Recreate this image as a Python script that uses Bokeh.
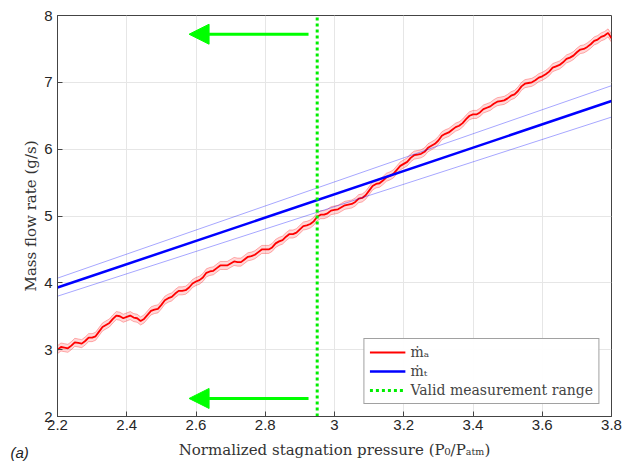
from bokeh.plotting import figure
from bokeh.models import Range1d, Arrow, NormalHead, Legend, LegendItem, Label, FixedTicker
from bokeh.embed import file_html
from bokeh.resources import INLINE

# ---- data ----
p_norm = [2.20, 2.21, 2.22, 2.23, 2.24, 2.25, 2.26, 2.27, 2.28, 2.29,
          2.30, 2.31, 2.32, 2.33, 2.34, 2.35, 2.36, 2.37, 2.38, 2.39,
          2.40, 2.41, 2.42, 2.43, 2.44, 2.45, 2.46, 2.47, 2.48, 2.49,
          2.50, 2.51, 2.52, 2.53, 2.54, 2.55, 2.56, 2.57, 2.58, 2.59,
          2.60, 2.61, 2.62, 2.63, 2.64, 2.65, 2.66, 2.67, 2.68, 2.69,
          2.70, 2.71, 2.72, 2.73, 2.74, 2.75, 2.76, 2.77, 2.78, 2.79,
          2.80, 2.81, 2.82, 2.83, 2.84, 2.85, 2.86, 2.87, 2.88, 2.89,
          2.90, 2.91, 2.92, 2.93, 2.94, 2.95, 2.96, 2.97, 2.98, 2.99,
          3.00, 3.01, 3.02, 3.03, 3.04, 3.05, 3.06, 3.07, 3.08, 3.09,
          3.10, 3.11, 3.12, 3.13, 3.14, 3.15, 3.16, 3.17, 3.18, 3.19,
          3.20, 3.21, 3.22, 3.23, 3.24, 3.25, 3.26, 3.27, 3.28, 3.29,
          3.30, 3.31, 3.32, 3.33, 3.34, 3.35, 3.36, 3.37, 3.38, 3.39,
          3.40, 3.41, 3.42, 3.43, 3.44, 3.45, 3.46, 3.47, 3.48, 3.49,
          3.50, 3.51, 3.52, 3.53, 3.54, 3.55, 3.56, 3.57, 3.58, 3.59,
          3.60, 3.61, 3.62, 3.63, 3.64, 3.65, 3.66, 3.67, 3.68, 3.69,
          3.70, 3.71, 3.72, 3.73, 3.74, 3.75, 3.76, 3.77, 3.78, 3.79,
          3.80]
m_a = [3.00, 3.04, 3.03, 3.02, 3.06, 3.11, 3.10, 3.09, 3.13, 3.18,
       3.18, 3.20, 3.27, 3.34, 3.37, 3.40, 3.46, 3.51, 3.50, 3.47,
       3.49, 3.51, 3.48, 3.47, 3.43, 3.46, 3.52, 3.58, 3.60, 3.61,
       3.67, 3.74, 3.77, 3.79, 3.84, 3.88, 3.88, 3.89, 3.93, 3.99,
       4.02, 4.04, 4.08, 4.15, 4.17, 4.18, 4.22, 4.26, 4.26, 4.26,
       4.29, 4.32, 4.31, 4.31, 4.35, 4.39, 4.40, 4.42, 4.46, 4.50,
       4.50, 4.50, 4.53, 4.59, 4.62, 4.64, 4.69, 4.73, 4.73, 4.75,
       4.80, 4.85, 4.86, 4.88, 4.92, 4.99, 5.02, 5.02, 5.04, 5.08,
       5.09, 5.10, 5.13, 5.16, 5.17, 5.18, 5.21, 5.26, 5.27, 5.31,
       5.38, 5.45, 5.48, 5.49, 5.53, 5.58, 5.60, 5.63, 5.69, 5.75,
       5.78, 5.81, 5.87, 5.91, 5.92, 5.93, 5.96, 6.02, 6.05, 6.08,
       6.13, 6.20, 6.23, 6.25, 6.29, 6.33, 6.35, 6.39, 6.45, 6.50,
       6.52, 6.52, 6.55, 6.60, 6.62, 6.64, 6.68, 6.71, 6.72, 6.73,
       6.76, 6.80, 6.82, 6.87, 6.94, 6.98, 6.99, 7.00, 7.03, 7.07,
       7.09, 7.12, 7.16, 7.22, 7.24, 7.26, 7.30, 7.35, 7.37, 7.40,
       7.45, 7.49, 7.50, 7.53, 7.57, 7.62, 7.64, 7.68, 7.70, 7.74,
       7.66]
m_a_err = 0.06

p_theory = [2.2, 3.8]
m_t = [3.93, 6.72]
m_t_hi = [4.07, 6.95]
m_t_lo = [3.80, 6.48]

valid_p = 2.95
arrow_start_p = 2.925
arrow_end_p = 2.58
arrow_y = [7.72, 2.27]
y_range = [2, 8]

x_ticks = [2.2, 2.4, 2.6, 2.8, 3.0, 3.2, 3.4, 3.6, 3.8]
y_ticks = [2, 3, 4, 5, 6, 7, 8]

SERIF = "DejaVu Serif"
SANS = "Liberation Sans"

p = figure(width=626, height=461, output_backend="svg", toolbar_location=None,
           x_range=Range1d(2.2, 3.8), y_range=Range1d(*y_range),
           min_border_left=57, min_border_right=15, min_border_top=15, min_border_bottom=43)

p.outline_line_color = "#444444"
p.outline_line_width = 1
for ax, ticks in ((p.xaxis, x_ticks), (p.yaxis, y_ticks)):
    ax.ticker = FixedTicker(ticks=ticks)
    ax.major_tick_in = 5
    ax.major_tick_out = 0
    ax.minor_tick_line_color = None
    ax.axis_line_color = "#444444"
    ax.major_tick_line_color = "#444444"
    ax.major_label_text_font = SANS
    ax.major_label_text_font_size = "15px"
    ax.major_label_text_color = "#262626"
    ax.axis_label_text_font = SERIF
    ax.axis_label_text_font_style = "normal"
    ax.axis_label_text_font_size = "15px"
    ax.axis_label_text_color = "#333333"
p.xaxis.major_label_overrides = {3.0: "3"}
p.xaxis.major_label_standoff = 3
p.yaxis.major_label_standoff = 5
p.xaxis.axis_label = "Normalized stagnation pressure (P\u2080/P\u2090\u209c\u2098)"
p.xaxis.axis_label_standoff = 8
p.yaxis.axis_label = "Mass flow rate (g/s)"
p.yaxis.axis_label_standoff = 1

p.grid.grid_line_color = "#e6e6e6"
p.grid.grid_line_width = 1

# red measured band + line
lo = [v - m_a_err for v in m_a]
hi = [v + m_a_err for v in m_a]
p.varea(x=p_norm, y1=lo, y2=hi, fill_color="#ff0000", fill_alpha=0.15)
p.line(p_norm, lo, line_color="#ff0000", line_alpha=0.3, line_width=1)
p.line(p_norm, hi, line_color="#ff0000", line_alpha=0.3, line_width=1)
r_a = p.line(p_norm, m_a, line_color="#ff0000", line_width=1.8)

# blue theory
p.line(p_theory, m_t_hi, line_color="#0000ff", line_alpha=0.35, line_width=1)
p.line(p_theory, m_t_lo, line_color="#0000ff", line_alpha=0.35, line_width=1)
r_t = p.line(p_theory, m_t, line_color="#0000ff", line_width=2.5)

# valid range line
r_v = p.line([valid_p, valid_p], y_range, line_color="#00ee00", line_width=3, line_dash="3 3")

for yv in arrow_y:
    p.add_layout(Arrow(x_start=arrow_start_p, y_start=yv, x_end=arrow_end_p, y_end=yv,
                       line_color="#00ff00", line_width=3,
                       end=NormalHead(size=20, fill_color="#00ff00", line_color="#00ff00")))

legend = Legend(items=[LegendItem(label="\u1e41\u2090", renderers=[r_a]),
                       LegendItem(label="\u1e41\u209c", renderers=[r_t]),
                       LegendItem(label="Valid measurement range", renderers=[r_v])],
                location="bottom_right")
legend.label_text_font = SERIF
legend.label_text_font_size = "14px"
legend.border_line_color = "#444444"
legend.border_line_width = 1
legend.glyph_width = 36
legend.glyph_height = 16
legend.label_height = 16
legend.spacing = 3
legend.padding = 5
legend.margin = 12
legend.label_standoff = 5
p.add_layout(legend)

p.add_layout(Label(x=9, y=-44, x_units="screen", y_units="screen", text="(a)",
                   text_font=SANS, text_font_style="italic", text_font_size="15px",
                   text_color="#222222"), "left")

open("out.html", "w").write(file_html(p, INLINE))
